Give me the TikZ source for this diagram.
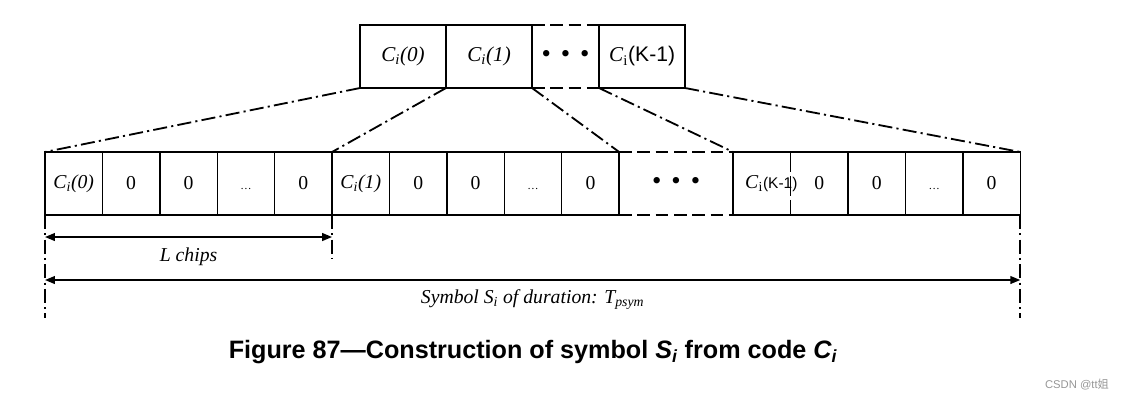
\documentclass[tikz,border=0pt]{standalone}
\usepackage{fontspec}
\setmainfont{Liberation Serif}
\setsansfont{Liberation Sans}
\newfontfamily\cjk{Noto Sans CJK SC}
\usetikzlibrary{arrows.meta, positioning, calc}
\definecolor{markgray}{RGB}{150, 150, 150}

\begin{document}
\begin{tikzpicture}[
    x=0.025cm, y=-0.025cm,
    node distance=0pt,
    cell/.style={draw, line width=1pt, minimum width=1.435cm, minimum height=1.575cm,
                 inner sep=0pt, outer sep=0pt, font=\fontsize{14}{16}\selectfont},
    topcell/.style={cell, minimum width=2.15cm, font=\fontsize{15}{17}\selectfont},
    gapcell/.style={cell, draw=none},
    dots/.style={font=\fontsize{19}{21}\selectfont},
    link/.style={line width=1.3pt, dash pattern=on 10pt off 3pt on 1.5pt off 3pt},
    cut/.style={line width=1.8pt, dash pattern=on 9pt off 4pt},
    span/.style={line width=1.1pt, {Triangle[length=7pt,width=5.5pt]}-{Triangle[length=7pt,width=5.5pt]}},
    label/.style={font=\itshape\fontsize{14}{16}\selectfont}
]
    \useasboundingbox (0,0) rectangle (1122,400);

    % code C_i
    \node[topcell, anchor=north west] (c0) at (360,25) {\textit{C\textsubscript{i}(0)}};
    \node[topcell, right=of c0] (c1) {\textit{C\textsubscript{i}(1)}};
    \node[gapcell, dots, minimum width=1.675cm, right=of c1] (cd) {\textbullet\hspace{0.25cm}\textbullet\hspace{0.25cm}\textbullet};
    \node[topcell, right=of cd] (ck) {\textit{C}\textsubscript{i}{\sffamily(K-1)}};
    \draw[cut] (cd.north west) -- (cd.north east);
    \draw[cut] (cd.south west) -- (cd.south east);

    % symbol S_i
    \node[cell, anchor=north west] (b0) at (45,152) {\textit{C\textsubscript{i}(0)}};
    \node[cell, right=of b0] (b1) {0};
    \node[cell, right=of b1] (b2) {0};
    \node[cell, right=of b2] (b3) {\vphantom{0}\footnotesize\dots};
    \node[cell, right=of b3] (b4) {0};
    \node[cell, right=of b4] (b5) {\textit{C\textsubscript{i}(1)}};
    \node[cell, right=of b5] (b6) {0};
    \node[cell, right=of b6] (b7) {0};
    \node[cell, right=of b7] (b8) {\vphantom{0}\footnotesize\dots};
    \node[cell, right=of b8] (b9) {0};
    \node[gapcell, dots, minimum width=2.85cm, right=of b9] (bd) {\textbullet\hspace{0.25cm}\textbullet\hspace{0.25cm}\textbullet};
    \node[gapcell, right=of bd] (k0) {\makebox[1.435cm][l]{\hspace{0.3cm}\textit{C}\textsubscript{i}{\sffamily\fontsize{11}{13}\selectfont(K-1)}}};
    \node[gapcell, right=of k0] (k1) {0};
    \node[cell, right=of k1] (k2) {0};
    \node[cell, right=of k2] (k3) {\vphantom{0}\footnotesize\dots};
    \node[cell, right=of k3] (k4) {0};
    \draw[cut] (bd.north west) -- (bd.north east);
    \draw[cut] (bd.south west) -- (bd.south east);
    \draw[line width=1pt] (k0.north east) -- (k0.north west) -- (k0.south west) -- (k0.south east);
    \draw[line width=1pt] (k1.north west) -- (k1.north east) -- (k1.south east) -- (k1.south west);
    \draw[line width=1pt, dash pattern=on 14pt off 3pt] (k0.north east) -- (k0.south east);

    % expansion lines
    \draw[link] (c0.south west) -- (b0.north west);
    \draw[link] (c1.south west) -- (b5.north west);
    \draw[link] (cd.south west) -- (bd.north west);
    \draw[link] (ck.south west) -- (k0.north west);
    \draw[link] (ck.south east) -- (k4.north east);

    % durations
    \coordinate (v0) at ($(b0.south west)+(0,103)$);
    \coordinate (v1) at ($(b4.south east)+(0,43)$);
    \coordinate (v2) at ($(k4.south east)+(0,103)$);
    \coordinate (a0) at ($(b0.south west)+(0,22)$);
    \coordinate (a1) at ($(b4.south east)+(0,22)$);
    \coordinate (s0) at ($(b0.south west)+(0,65)$);
    \coordinate (s1) at ($(k4.south east)+(0,65)$);
    \draw[link] (b0.south west) -- (v0);
    \draw[link] (b4.south east) -- (v1);
    \draw[link] (k4.south east) -- (v2);
    \draw[span] (a0) -- (a1);
    \draw[span] (s0) -- (s1);
    \node[label] (lchips) at ($(a0)!0.5!(a1)+(0,20)$) {L chips};
    \node[label] (tsym) at ($(s0)!0.5!(s1)+(0,20)$) {Symbol S\textsubscript{i} of duration: T\textsubscript{psym}};

    % caption
    \node[font=\sffamily\bfseries\fontsize{17.9}{21}\selectfont] (cap) at (533,352)
        {Figure 87---Construction of symbol \textit{S\textsubscript{i}} from code \textit{C\textsubscript{i}}};
    \node[font=\sffamily\fontsize{8}{10}\selectfont, text=markgray] (mark) at (1077,385) {CSDN @tt{\cjk 姐}};
\end{tikzpicture}
\end{document}
